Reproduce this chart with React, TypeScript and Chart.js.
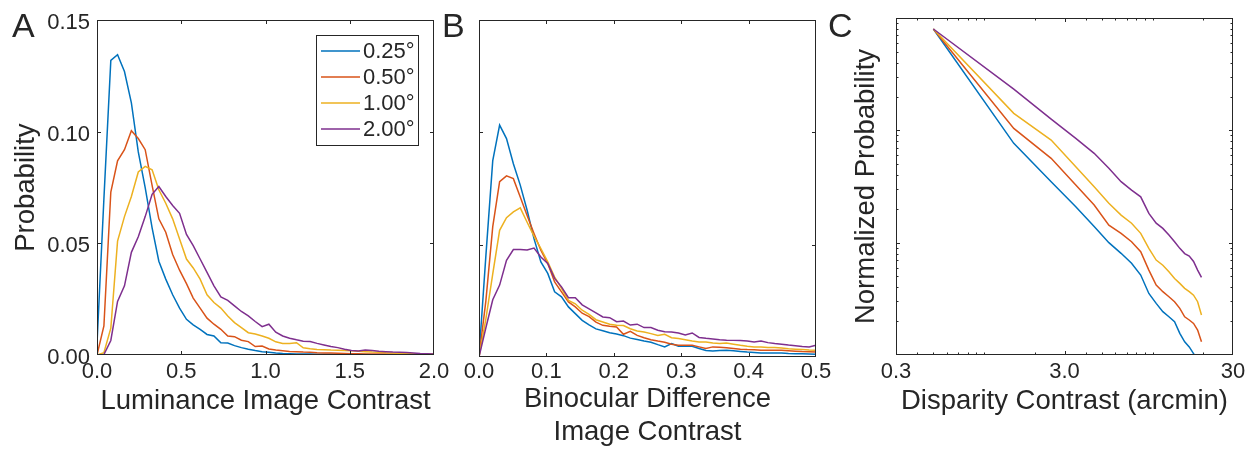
import React, { useEffect, useRef } from 'react';
import { Chart, registerables } from 'chart.js';
Chart.register(...registerables);

const FONT = '"Liberation Sans", Arial, Helvetica, sans-serif';
const INK = '#262626';

const seriesLabels = ['0.25°', '0.50°', '1.00°', '2.00°'];
const seriesColors = ['#0072BD', '#D95319', '#EDB120', '#7E2F8E'];

// ---------- Panel A: luminance image contrast ----------
const xA = [0, 0.041, 0.082, 0.122, 0.163, 0.204, 0.245, 0.286, 0.327, 0.367, 0.408, 0.449, 0.49, 0.531, 0.571, 0.612, 0.653, 0.694, 0.735, 0.776, 0.816, 0.857, 0.898, 0.939, 0.98, 1.02, 1.061, 1.102, 1.143, 1.184, 1.224, 1.265, 1.306, 1.347, 1.388, 1.429, 1.469, 1.51, 1.551, 1.592, 1.633, 1.673, 1.714, 1.755, 1.796, 1.837, 1.878, 1.918, 1.959, 2.0];
const a025 = [0.005, 0.07, 0.132, 0.1345, 0.127, 0.113, 0.091, 0.075, 0.057, 0.042, 0.034, 0.027, 0.021, 0.016, 0.0135, 0.0115, 0.0092, 0.0085, 0.0055, 0.0054, 0.0042, 0.0033, 0.0026, 0.002, 0.0015, 0.0012, 0.0009, 0.0007, 0.0006, 0.0005, 0.0004, 0.0004, 0.0003, 0.0003, 0.0003, 0.0002, 0.0002, 0.0002, 0.0002, 0.0002, 0.0001, 0.0001, 0.0001, 0.0001, 0.0001, 0.0001, 0.0001, 0.0001, 0.0001, 0.0001];
const a050 = [0, 0.013, 0.073, 0.087, 0.092, 0.1005, 0.097, 0.092, 0.076, 0.061, 0.055, 0.045, 0.038, 0.032, 0.0255, 0.021, 0.0165, 0.0138, 0.0115, 0.0085, 0.0082, 0.0066, 0.006, 0.0038, 0.004, 0.0027, 0.0022, 0.0019, 0.0016, 0.0015, 0.0013, 0.0012, 0.001, 0.0009, 0.0009, 0.0008, 0.0007, 0.0006, 0.0006, 0.0005, 0.0005, 0.0004, 0.0004, 0.0004, 0.0003, 0.0003, 0.0003, 0.0002, 0.0002, 0.0002];
const a100 = [0, 0.001, 0.012, 0.051, 0.062, 0.071, 0.082, 0.0845, 0.083, 0.074, 0.068, 0.061, 0.052, 0.043, 0.039, 0.034, 0.027, 0.0235, 0.021, 0.0175, 0.0145, 0.0123, 0.01, 0.0094, 0.0085, 0.0075, 0.0059, 0.0052, 0.0052, 0.0055, 0.0032, 0.0028, 0.0025, 0.0024, 0.0022, 0.0021, 0.002, 0.0019, 0.0017, 0.0015, 0.0013, 0.0012, 0.001, 0.0009, 0.0008, 0.0007, 0.0006, 0.0005, 0.0005, 0.0004];
const a200 = [0, 0.0002, 0.0065, 0.024, 0.031, 0.046, 0.053, 0.062, 0.072, 0.0755, 0.071, 0.067, 0.0635, 0.054, 0.049, 0.043, 0.037, 0.031, 0.026, 0.0245, 0.022, 0.0195, 0.0175, 0.015, 0.0127, 0.0138, 0.0102, 0.0085, 0.0075, 0.0068, 0.0062, 0.006, 0.0052, 0.0045, 0.0038, 0.0033, 0.0026, 0.002, 0.0018, 0.0022, 0.002, 0.0017, 0.0015, 0.0013, 0.0012, 0.0011, 0.0009, 0.0007, 0.0006, 0.0005];
const xTicksA = [0, 0.5, 1, 1.5, 2];
const xTickLabelsA = ['0.0', '0.5', '1.0', '1.5', '2.0'];
const yTicksA = [0, 0.05, 0.1, 0.15];
const yTickLabelsA = ['0.00', '0.05', '0.10', '0.15'];

// ---------- Panel B: binocular difference image contrast ----------
const xB = [0, 0.0102, 0.0204, 0.0306, 0.0408, 0.051, 0.0612, 0.0714, 0.0816, 0.0918, 0.102, 0.1122, 0.1224, 0.1327, 0.1429, 0.1531, 0.1633, 0.1735, 0.1837, 0.1939, 0.2041, 0.2143, 0.2245, 0.2347, 0.2449, 0.2551, 0.2653, 0.2755, 0.2857, 0.2959, 0.3061, 0.3163, 0.3265, 0.3367, 0.3469, 0.3571, 0.3673, 0.3776, 0.3878, 0.398, 0.4082, 0.4184, 0.4286, 0.4388, 0.449, 0.4592, 0.4694, 0.4796, 0.4898, 0.5];
const b025 = [0.0005, 0.045, 0.0874, 0.1032, 0.0972, 0.086, 0.0765, 0.0653, 0.0527, 0.0423, 0.0372, 0.029, 0.0268, 0.0223, 0.0193, 0.0163, 0.0143, 0.0125, 0.0117, 0.0108, 0.0102, 0.0095, 0.0084, 0.0078, 0.0071, 0.0066, 0.0055, 0.0045, 0.006, 0.0048, 0.0048, 0.0048, 0.0038, 0.0029, 0.0027, 0.0029, 0.003, 0.0028, 0.0025, 0.0022, 0.002, 0.0018, 0.0018, 0.0018, 0.0018, 0.0016, 0.0015, 0.0014, 0.0013, 0.0012];
const b050 = [0, 0.025, 0.058, 0.078, 0.0806, 0.0794, 0.0712, 0.063, 0.055, 0.0475, 0.0416, 0.0334, 0.029, 0.0245, 0.0223, 0.0195, 0.018, 0.0155, 0.0141, 0.0137, 0.0134, 0.0101, 0.0114, 0.0096, 0.0086, 0.0077, 0.0071, 0.0066, 0.0057, 0.0052, 0.0052, 0.0052, 0.0045, 0.0038, 0.0045, 0.0043, 0.0041, 0.0038, 0.0035, 0.0033, 0.0032, 0.003, 0.003, 0.003, 0.003, 0.0028, 0.0026, 0.0024, 0.0023, 0.0022];
const b100 = [0, 0.017, 0.037, 0.0564, 0.062, 0.0646, 0.0664, 0.06, 0.0538, 0.0483, 0.0424, 0.0356, 0.0305, 0.0252, 0.0237, 0.0208, 0.019, 0.0166, 0.0156, 0.0146, 0.0141, 0.014, 0.0126, 0.0116, 0.0111, 0.0104, 0.0096, 0.0101, 0.0086, 0.0082, 0.0077, 0.0071, 0.0067, 0.0067, 0.0062, 0.006, 0.0062, 0.0057, 0.0052, 0.0048, 0.0045, 0.0045, 0.0042, 0.0042, 0.004, 0.0037, 0.0035, 0.0033, 0.0031, 0.003];
const b200 = [0, 0.013, 0.0255, 0.032, 0.043, 0.0478, 0.0478, 0.0476, 0.0485, 0.0445, 0.0416, 0.035, 0.0312, 0.0264, 0.0264, 0.0232, 0.0214, 0.0196, 0.0178, 0.0175, 0.0157, 0.016, 0.0142, 0.0146, 0.0131, 0.0131, 0.0119, 0.0112, 0.0111, 0.0107, 0.0098, 0.0107, 0.0087, 0.0083, 0.008, 0.0077, 0.0075, 0.0074, 0.0073, 0.0071, 0.0067, 0.0071, 0.0064, 0.006, 0.0057, 0.0053, 0.005, 0.0047, 0.0045, 0.0052];
const xTicksB = [0, 0.1, 0.2, 0.3, 0.4, 0.5];
const xTickLabelsB = ['0.0', '0.1', '0.2', '0.3', '0.4', '0.5'];
const yTicksB = [0, 0.05, 0.1, 0.15];

// ---------- Panel C: disparity contrast (log-log) ----------
const xC = [0.5, 1.5, 2.5, 3.5, 4.5, 5.5, 6.5, 7.5, 8.5, 9.5, 10.5, 11.5, 12.5, 13.5, 14.5, 15.5, 16.5, 17.5, 18.5, 19.5];
const c025 = [0.798, 0.0766, 0.0349, 0.0209, 0.0139, 0.01, 0.00804, 0.00655, 0.00515, 0.00353, 0.00288, 0.00243, 0.00219, 0.00198, 0.00156, 0.00131, 0.00118, 0.00103, 0.0009, 0.0008];
const c050 = [0.798, 0.104, 0.0563, 0.0326, 0.0216, 0.0143, 0.0121, 0.0102, 0.0083, 0.0057, 0.0042, 0.00366, 0.0033, 0.00298, 0.0026, 0.00219, 0.00205, 0.00191, 0.00167, 0.00131];
const c100 = [0.798, 0.1416, 0.082, 0.0474, 0.0315, 0.0224, 0.0176, 0.0149, 0.0121, 0.0089, 0.007, 0.0063, 0.0055, 0.0048, 0.00434, 0.00392, 0.00366, 0.00341, 0.00298, 0.00227];
const c200 = [0.798, 0.233, 0.126, 0.0849, 0.0624, 0.0459, 0.0349, 0.0294, 0.0256, 0.0182, 0.0149, 0.0134, 0.0117, 0.0102, 0.0089, 0.008, 0.0076, 0.0068, 0.0057, 0.0049];
const xTicksC = [0.3, 3, 30];
const xTickLabelsC = ['0.3', '3.0', '30'];

function decadeMinors(decades: number[], skip: number[] = []) {
  const out: number[] = [];
  decades.forEach((d) => {
    for (let k = 1; k <= 9; k++) {
      const v = +(k * d).toPrecision(6);
      if (!skip.some((s) => Math.abs(s - v) < 1e-9)) out.push(v);
    }
  });
  return out;
}

const boxTicks = {
  id: 'boxTicks',
  afterDatasetsDraw(chart: any, _args: any, opts: any) {
    const { ctx, chartArea } = chart;
    const L = Math.round(chartArea.left);
    const R = Math.round(chartArea.right);
    const T = Math.round(chartArea.top);
    const B = Math.round(chartArea.bottom);
    const xs = chart.scales.x;
    const ys = chart.scales.y;
    ctx.save();
    ctx.strokeStyle = INK;
    ctx.lineWidth = 1;
    const drawX = (vals: number[], len: number) => {
      (vals || []).forEach((v) => {
        const p = Math.round(xs.getPixelForValue(v)) + 0.5;
        if (p <= L + 1 || p >= R - 1) return;
        ctx.beginPath();
        ctx.moveTo(p, B);
        ctx.lineTo(p, B - len);
        ctx.moveTo(p, T);
        ctx.lineTo(p, T + len);
        ctx.stroke();
      });
    };
    const drawY = (vals: number[], len: number) => {
      (vals || []).forEach((v) => {
        const p = Math.round(ys.getPixelForValue(v)) + 0.5;
        if (p <= T + 1 || p >= B - 1) return;
        ctx.beginPath();
        ctx.moveTo(L, p);
        ctx.lineTo(L + len, p);
        ctx.moveTo(R, p);
        ctx.lineTo(R - len, p);
        ctx.stroke();
      });
    };
    drawX(opts.xMajor, 4);
    drawX(opts.xMinor, 2.5);
    drawY(opts.yMajor, 4);
    drawY(opts.yMinor, 2.5);
    ctx.strokeRect(L + 0.5, T + 0.5, R - L - 1, B - T - 1);
    ctx.restore();
  },
};

const inLegend = {
  id: 'inLegend',
  afterDraw(chart: any, _args: any, opts: any) {
    if (!opts || !opts.show) return;
    const { ctx, chartArea } = chart;
    const w = 103;
    const h = 111;
    const x0 = Math.round(chartArea.right) - 15 - w;
    const y0 = Math.round(chartArea.top) + 15;
    ctx.save();
    ctx.fillStyle = '#ffffff';
    ctx.fillRect(x0, y0, w, h);
    ctx.strokeStyle = INK;
    ctx.lineWidth = 1;
    ctx.strokeRect(x0 + 0.5, y0 + 0.5, w - 1, h - 1);
    ctx.font = `22px ${FONT}`;
    ctx.textBaseline = 'middle';
    ctx.textAlign = 'left';
    chart.data.datasets.forEach((ds: any, i: number) => {
      const yy = Math.round(y0 + 15.5 + i * 26.3);
      ctx.strokeStyle = ds.borderColor;
      ctx.lineWidth = 1.5;
      ctx.beginPath();
      ctx.moveTo(x0 + 5, yy);
      ctx.lineTo(x0 + 44, yy);
      ctx.stroke();
      ctx.fillStyle = INK;
      ctx.fillText(ds.label, x0 + 47, yy + 1);
    });
    ctx.restore();
  },
};

Chart.register(boxTicks, inLegend);
Chart.defaults.font.family = FONT;
Chart.defaults.color = INK;

function makeDatasets(xs: number[], series: number[][]) {
  return series.map((ys, i) => ({
    label: seriesLabels[i],
    data: xs.map((x, j) => ({ x, y: ys[j] })),
    borderColor: seriesColors[i],
    backgroundColor: seriesColors[i],
    borderWidth: 1.5,
    pointRadius: 0,
    tension: 0,
    fill: false,
    order: series.length - 1 - i,
  }));
}

function setTicks(vals: number[]) {
  return (s: any) => {
    s.ticks = vals.map((v) => ({ value: v }));
  };
}

const baseOpts = {
  animation: false,
  responsive: false,
  maintainAspectRatio: false,
  events: [],
};

const TITLE_SIZE = 27.5;

function configA(): any {
  return {
    type: 'line',
    data: { datasets: makeDatasets(xA, [a025, a050, a100, a200]) },
    options: {
      ...baseOpts,
      layout: { padding: { left: 7, right: 816, top: 18, bottom: 0 } },
      plugins: {
        legend: { display: false },
        tooltip: { enabled: false },
        boxTicks: { xMajor: xTicksA, yMajor: yTicksA },
        inLegend: { show: true },
      },
      scales: {
        x: {
          type: 'linear', min: 0, max: 2,
          afterBuildTicks: setTicks(xTicksA),
          afterFit: (s: any) => { s.height = 94; },
          ticks: { callback: (_v: any, i: number) => xTickLabelsA[i], font: { size: 22 }, padding: 4, maxRotation: 0, autoSkip: false, color: INK },
          grid: { display: false, drawTicks: false },
          border: { display: false },
          title: { display: true, text: 'Luminance Image Contrast', font: { size: TITLE_SIZE }, color: INK, padding: { top: 0, bottom: 31 } },
        },
        y: {
          type: 'linear', min: 0, max: 0.15,
          afterBuildTicks: setTicks(yTicksA),
          afterFit: (s: any) => { s.width = 90; },
          ticks: { callback: (_v: any, i: number) => yTickLabelsA[i], font: { size: 22 }, padding: 7, labelOffset: 3, autoSkip: false, color: INK },
          grid: { display: false, drawTicks: false },
          border: { display: false },
          title: { display: true, text: 'Probability', font: { size: TITLE_SIZE }, color: INK, padding: { top: 3, bottom: 0 } },
        },
      },
    },
  };
}

function configB(): any {
  return {
    type: 'line',
    data: { datasets: makeDatasets(xB, [b025, b050, b100, b200]) },
    options: {
      ...baseOpts,
      layout: { padding: { left: 479, right: 434, top: 20, bottom: 0 } },
      plugins: {
        legend: { display: false },
        tooltip: { enabled: false },
        boxTicks: { xMajor: xTicksB, yMajor: yTicksB },
      },
      scales: {
        x: {
          type: 'linear', min: 0, max: 0.5,
          afterBuildTicks: setTicks(xTicksB),
          afterFit: (s: any) => { s.height = 92; },
          ticks: { callback: (_v: any, i: number) => xTickLabelsB[i], font: { size: 22 }, padding: 2, maxRotation: 0, autoSkip: false, color: INK },
          grid: { display: false, drawTicks: false },
          border: { display: false },
          title: { display: true, text: ['Binocular Difference', 'Image Contrast'], font: { size: TITLE_SIZE }, color: INK, padding: { top: 0, bottom: 0 } },
        },
        y: {
          type: 'linear', min: 0, max: 0.15, display: false,
        },
      },
    },
  };
}

function configC(): any {
  const xMinorC = decadeMinors([0.1, 1, 10], [0.1, 0.2, 0.3, 3, 30, 40, 50, 60, 70, 80, 90]);
  const yMinorC = decadeMinors([0.001, 0.01, 0.1], [0.001, 0.01, 0.1]);
  return {
    type: 'line',
    data: { datasets: makeDatasets(xC, [c025, c050, c100, c200]) },
    options: {
      ...baseOpts,
      layout: { padding: { left: 849, right: 17, top: 18, bottom: 0 } },
      plugins: {
        legend: { display: false },
        tooltip: { enabled: false },
        boxTicks: { xMajor: xTicksC, xMinor: xMinorC, yMajor: [0.01, 0.1], yMinor: yMinorC },
      },
      scales: {
        x: {
          type: 'logarithmic', min: 0.3, max: 30,
          afterBuildTicks: setTicks(xTicksC),
          afterFit: (s: any) => { s.height = 94; },
          ticks: { callback: (_v: any, i: number) => xTickLabelsC[i], font: { size: 22 }, padding: 4, maxRotation: 0, autoSkip: false, color: INK },
          grid: { display: false, drawTicks: false },
          border: { display: false },
          title: { display: true, text: 'Disparity Contrast (arcmin)', font: { size: TITLE_SIZE }, color: INK, padding: { top: 0, bottom: 31 } },
        },
        y: {
          type: 'logarithmic', min: 0.001, max: 1,
          afterBuildTicks: setTicks([]),
          afterFit: (s: any) => { s.width = 47; },
          ticks: { display: false },
          grid: { display: false, drawTicks: false },
          border: { display: false },
          title: { display: true, text: 'Normalized Probability', font: { size: TITLE_SIZE }, color: INK, padding: { top: 1, bottom: 0 } },
        },
      },
    },
  };
}

const canvasStyle: React.CSSProperties = { position: 'absolute', left: 0, top: 0, display: 'block' };
const letterStyle = (left: number): React.CSSProperties => ({
  position: 'absolute', left, top: 8, fontFamily: FONT, fontSize: 34, lineHeight: '34px', color: INK,
});

export default function App() {
  const refA = useRef<HTMLCanvasElement>(null);
  const refB = useRef<HTMLCanvasElement>(null);
  const refC = useRef<HTMLCanvasElement>(null);

  useEffect(() => {
    const charts = [
      new Chart(refA.current as HTMLCanvasElement, configA()),
      new Chart(refB.current as HTMLCanvasElement, configB()),
      new Chart(refC.current as HTMLCanvasElement, configC()),
    ];
    return () => charts.forEach((c) => c.destroy());
  }, []);

  return (
    <div style={{ position: 'absolute', left: 0, top: 0, width: 1250, height: 449, background: '#ffffff', overflow: 'hidden' }}>
      <canvas ref={refA} width={1250} height={449} style={canvasStyle} />
      <canvas ref={refB} width={1250} height={449} style={canvasStyle} />
      <canvas ref={refC} width={1250} height={449} style={canvasStyle} />
      <div style={letterStyle(12)}>A</div>
      <div style={letterStyle(442)}>B</div>
      <div style={letterStyle(828)}>C</div>
    </div>
  );
}
